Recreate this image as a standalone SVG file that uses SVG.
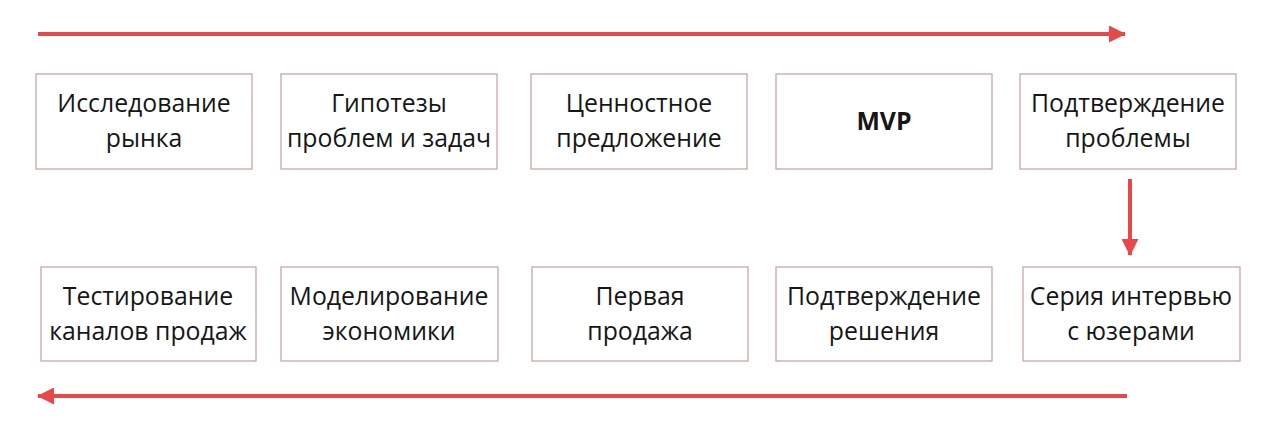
<svg xmlns="http://www.w3.org/2000/svg" width="1280" height="438" viewBox="0 0 1280 438">
<defs>
<style>
.box{fill:#ffffff;stroke:#c4a09c;stroke-width:1.2}
.t{font-family:"Open Sans","Noto Sans","Liberation Sans",sans-serif;font-size:24.8px;fill:#161616;text-anchor:middle}
.b{font-weight:bold}
.c{stroke:#e8484a;stroke-width:4;fill:none}
</style>
<marker id="ah" viewBox="0 0 17 17" refX="16" refY="8.5" markerWidth="17" markerHeight="17" markerUnits="userSpaceOnUse" orient="auto">
<path d="M0,0 L17,8.5 L0,17 Z" fill="#e8484a"/>
</marker>
</defs>
<rect width="1280" height="438" fill="#ffffff"/>
<g id="connectors">
<line class="c" x1="38" y1="34" x2="1125" y2="34" marker-end="url(#ah)"/>
<line class="c" x1="1130" y1="179" x2="1130" y2="255" marker-end="url(#ah)"/>
<line class="c" x1="1127" y1="396" x2="38" y2="396" marker-end="url(#ah)"/>
</g>
<g id="n1"><rect class="box" x="36" y="74" width="216" height="95"/><text class="t" x="144" y="112">Исследование</text><text class="t" x="144" y="147">рынка</text></g>
<g id="n2"><rect class="box" x="281" y="74" width="216" height="95"/><text class="t" x="389" y="112">Гипотезы</text><text class="t" x="389" y="147">проблем и задач</text></g>
<g id="n3"><rect class="box" x="531" y="74" width="216" height="95"/><text class="t" x="639" y="112">Ценностное</text><text class="t" x="639" y="147">предложение</text></g>
<g id="n4"><rect class="box" x="776" y="74" width="216" height="95"/><text class="t b" x="884" y="130">MVP</text></g>
<g id="n5"><rect class="box" x="1020" y="74" width="216" height="95"/><text class="t" x="1128" y="112">Подтверждение</text><text class="t" x="1128" y="147">проблемы</text></g>
<g id="n6"><rect class="box" x="1023" y="267" width="217" height="94"/><text class="t" x="1131" y="305">Серия интервью</text><text class="t" x="1131" y="340">с юзерами</text></g>
<g id="n7"><rect class="box" x="776" y="267" width="216" height="94"/><text class="t" x="884" y="305">Подтверждение</text><text class="t" x="884" y="340">решения</text></g>
<g id="n8"><rect class="box" x="532" y="267" width="216" height="94"/><text class="t" x="640" y="305">Первая</text><text class="t" x="640" y="340">продажа</text></g>
<g id="n9"><rect class="box" x="281" y="267" width="217" height="94"/><text class="t" x="389" y="305">Моделирование</text><text class="t" x="389" y="340">экономики</text></g>
<g id="n10"><rect class="box" x="41" y="267" width="215" height="94"/><text class="t" x="148" y="305">Тестирование</text><text class="t" x="148" y="340">каналов продаж</text></g>
</svg>
